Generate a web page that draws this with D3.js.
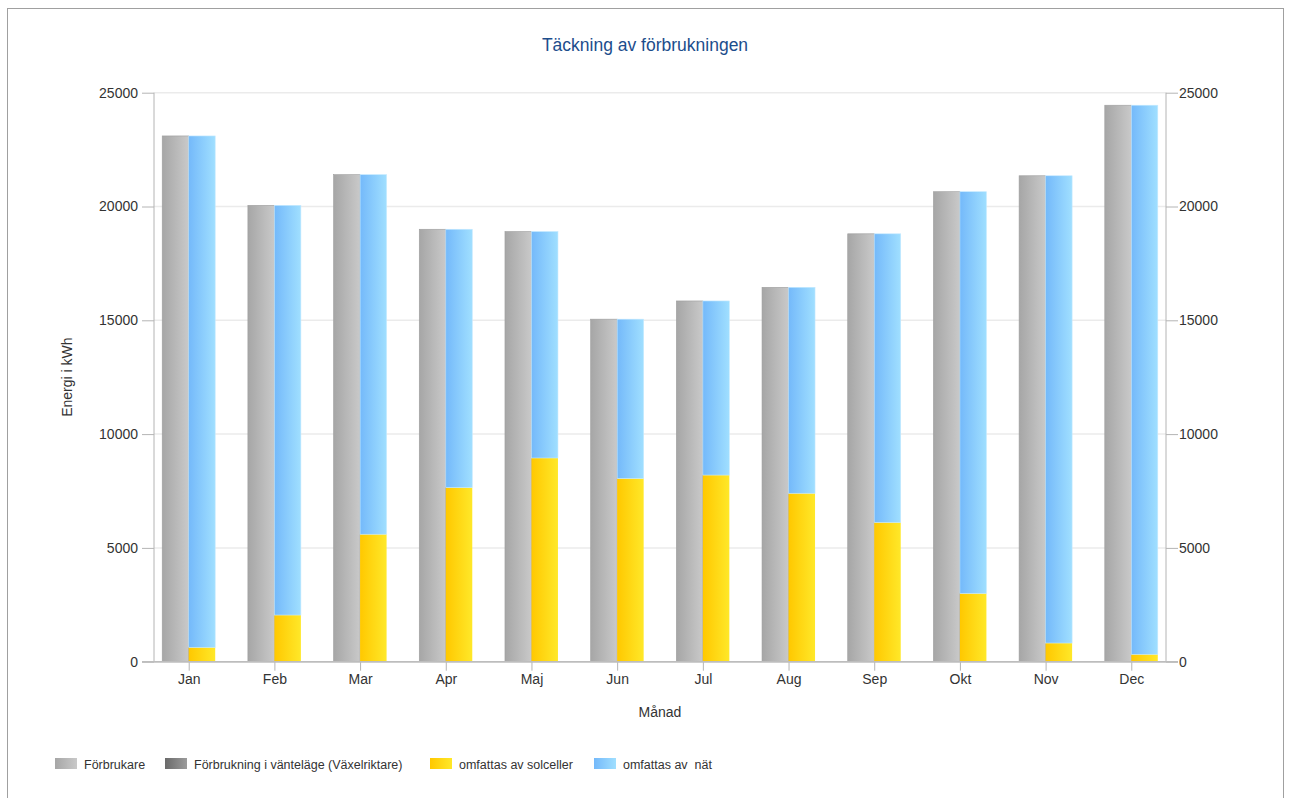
<!DOCTYPE html>
<html>
<head>
<meta charset="utf-8">
<script src="https://cdn.jsdelivr.net/npm/d3@7"></script>
<style>
  html, body { margin: 0; padding: 0; background: #fff; }
  svg { display: block; font-family: "Liberation Sans", Arial, sans-serif; }
  text { fill: #333333; }
</style>
</head>
<body>
<svg id="chart" width="1290" height="798"></svg>
<script>
// ---- Data ----
const months = ["Jan","Feb","Mar","Apr","Maj","Jun","Jul","Aug","Sep","Okt","Nov","Dec"];
const forbrukare = [23100, 20050, 21400, 19000, 18900, 15050, 15850, 16450, 18800, 20650, 21350, 24450];
const vantelage  = [0, 0, 0, 0, 0, 0, 0, 0, 0, 0, 0, 0];
const solceller  = [630, 2050, 5600, 7650, 8950, 8050, 8200, 7400, 6120, 3000, 820, 325];
const nat        = [22470, 18000, 15800, 11350, 9950, 7000, 7650, 9050, 12680, 17650, 20530, 24125];
const yTicks = [0, 5000, 10000, 15000, 20000, 25000];
const titleText = "Täckning av förbrukningen";
const yTitle = "Energi i kWh";
const xTitle = "Månad";
const legendLabels = ["Förbrukare", "Förbrukning i vänteläge (Växelriktare)", "omfattas av solceller", "omfattas av  nät"];

(function () {
// ---- Layout ----
const svg = d3.select("#chart");
const pLeft = 154, pRight = 1166, pTop = 92.7, pBottom = 661.7;

const defs = svg.append("defs");
function grad(id, c1, c2) {
  const g = defs.append("linearGradient").attr("id", id)
    .attr("x1", "0%").attr("x2", "100%").attr("y1", "0%").attr("y2", "0%");
  g.append("stop").attr("offset", "0%").attr("stop-color", c1);
  g.append("stop").attr("offset", "100%").attr("stop-color", c2);
}
grad("gGrey", "#a6a6a6", "#c9c9c9");
grad("gDark", "#6a6a6a", "#9c9c9c");
grad("gYellow", "#ffc800", "#ffe829");
grad("gBlue", "#74b9fa", "#a0dfff");

// Border
svg.append("rect").attr("x", 7.5).attr("y", 8.5).attr("width", 1276).attr("height", 800)
  .attr("fill", "none").attr("stroke", "#a0a0a0").attr("stroke-width", 1);

// Title
svg.append("text").attr("x", 645).attr("y", 51).attr("text-anchor", "middle")
  .style("font-size", "17.5px").style("fill", "#1c4d8c").text(titleText);

const x = d3.scalePoint().domain(months).range([pLeft, pRight]).padding(0.405);
const y = d3.scaleLinear().domain([0, 25000]).range([pBottom, pTop]);

// Gridlines
svg.append("g").selectAll("line").data(yTicks.filter(d => d > 0)).join("line")
  .attr("x1", pLeft).attr("x2", pRight)
  .attr("y1", d => y(d)).attr("y2", d => y(d))
  .attr("stroke", "#ebebeb").attr("stroke-width", 1.5);

// Axes
const axisColor = "#b4b4b4";
const yLeft = svg.append("g").attr("transform", `translate(${pLeft},0)`)
  .call(d3.axisLeft(y).tickValues(yTicks).tickSize(12).tickPadding(4).tickFormat(d3.format("d")));
const yRight = svg.append("g").attr("transform", `translate(${pRight},0)`)
  .call(d3.axisRight(y).tickValues(yTicks).tickSize(12).tickPadding(1).tickFormat(d3.format("d")));
const xAxis = svg.append("g").attr("transform", `translate(0,${pBottom})`)
  .call(d3.axisBottom(x).tickSize(9).tickPadding(3).tickSizeOuter(0));
[yLeft, yRight, xAxis].forEach(g => {
  g.selectAll("path.domain").attr("stroke", axisColor);
  g.selectAll(".tick line").attr("stroke", axisColor);
  g.selectAll("text").style("font-size", "14px").style("fill", "#333333").style("font-family", "Liberation Sans, Arial, sans-serif");
});
yLeft.select("path.domain").attr("d", `M0,${pTop}V${pBottom}`);
yRight.select("path.domain").attr("d", `M0,${pTop}V${pBottom}`);
xAxis.select("path.domain").attr("d", `M${pLeft - 12},0H${pRight + 12}`).attr("stroke-width", 1.5).attr("stroke", "#bdbdbd");

// Bars
const bw = 26.5;
const gBars = svg.append("g");
months.forEach((m, i) => {
  const cx = x(m);
  gBars.append("rect").attr("x", cx - bw).attr("width", bw)
    .attr("y", y(forbrukare[i])).attr("height", y(0) - y(forbrukare[i]))
    .attr("fill", "url(#gGrey)").attr("stroke", "#9e9e9e").attr("stroke-width", 0.6);
  gBars.append("rect").attr("x", cx - bw).attr("width", bw)
    .attr("y", y(forbrukare[i] + vantelage[i])).attr("height", y(forbrukare[i]) - y(forbrukare[i] + vantelage[i]))
    .attr("fill", "url(#gDark)");
  gBars.append("rect").attr("x", cx).attr("width", bw)
    .attr("y", y(solceller[i])).attr("height", y(0) - y(solceller[i]))
    .attr("fill", "url(#gYellow)");
  gBars.append("rect").attr("x", cx).attr("width", bw)
    .attr("y", y(solceller[i] + nat[i])).attr("height", y(solceller[i]) - y(solceller[i] + nat[i]))
    .attr("fill", "url(#gBlue)").attr("stroke", "#c4e9ff").attr("stroke-width", 0.6);
});
svg.append("line").attr("x1", pLeft - 12).attr("x2", pRight + 12).attr("y1", pBottom).attr("y2", pBottom)
  .attr("stroke", "#bdbdbd").attr("stroke-width", 1.5);

// Axis titles
svg.append("text").attr("transform", `translate(72,${(pTop + pBottom) / 2}) rotate(-90)`)
  .attr("text-anchor", "middle").style("font-size", "14px").text(yTitle);
svg.append("text").attr("x", (pLeft + pRight) / 2).attr("y", 717)
  .attr("text-anchor", "middle").style("font-size", "14px").text(xTitle);

// Legend
const legendFills = ["url(#gGrey)", "url(#gDark)", "url(#gYellow)", "url(#gBlue)"];
const legendX = [55, 165, 430, 594];
const lg = svg.append("g");
legendLabels.forEach((l, i) => {
  lg.append("rect").attr("x", legendX[i]).attr("y", 758).attr("width", 22).attr("height", 11)
    .attr("fill", legendFills[i]);
  lg.append("text").attr("x", legendX[i] + 29).attr("y", 768.5)
    .style("font-size", "12.5px").style("white-space", "pre").attr("xml:space", "preserve").text(l);
});
})();
</script>
</body>
</html>
